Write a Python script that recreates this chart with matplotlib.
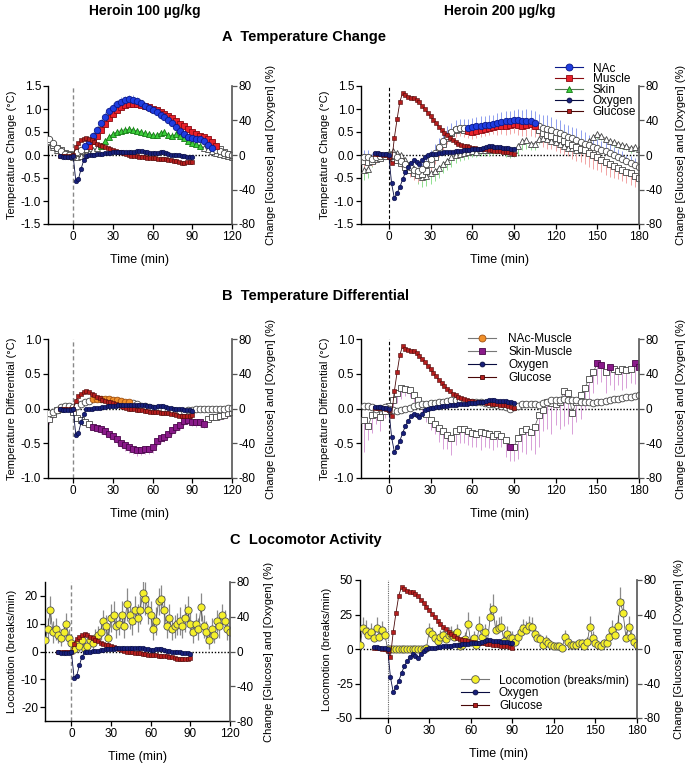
"""
plot.py - heroin 100 / 200 ug/kg: temperature change, temperature differential
and locomotor activity, each with glucose / oxygen on a right axis.
"""

import numpy as np
import matplotlib
matplotlib.use("Agg")
import matplotlib.pyplot as plt
from matplotlib.lines import Line2D

plt.rcParams["font.family"] = ["Liberation Sans", "DejaVu Sans"]
plt.rcParams["axes.unicode_minus"] = False
plt.rcParams["font.size"] = 8

# ---------------------------
# Sampling (start time, step in min)
# ---------------------------
T_START, T_STEP = -18, 3        # temperature series
EC_START, EC_STEP = -10, 2      # glucose / oxygen
LOCO_START, LOCO_STEP = -20, 2  # locomotion

# ---------------------------
# Panel A: temperature change (degC), heroin 100
# ---------------------------
NAC_100 = [0.35, 0.26, 0.16, 0.08, 0.03, 0.00, -0.02, 0.06, 0.10, 0.20,
           0.30, 0.42, 0.55, 0.70, 0.83, 0.95, 1.03, 1.10, 1.15, 1.19,
           1.21, 1.20, 1.17, 1.12, 1.07, 1.03, 0.98, 0.93, 0.88, 0.83,
           0.76, 0.69, 0.61, 0.53, 0.46, 0.40, 0.36, 0.35, 0.34, 0.30,
           0.22, 0.16, 0.11, 0.08, 0.05, 0.03, 0.01]
NAC_100_ERR = [0.06, 0.05, 0.05, 0.04, 0.04, 0.04, 0.04, 0.04, 0.05, 0.05,
               0.06, 0.07, 0.08, 0.09, 0.10, 0.10, 0.10, 0.10, 0.10, 0.10,
               0.10, 0.10, 0.09, 0.08, 0.08, 0.07, 0.07, 0.07, 0.06, 0.06,
               0.06, 0.06, 0.06, 0.06, 0.05, 0.05, 0.05, 0.05, 0.05, 0.05,
               0.05, 0.05, 0.05, 0.05, 0.05, 0.05, 0.05]
MUS_100 = [0.30, 0.22, 0.15, 0.10, 0.05, 0.02, 0.00, 0.04, 0.08, 0.13,
           0.20, 0.30, 0.42, 0.55, 0.68, 0.80, 0.90, 0.98, 1.04, 1.08,
           1.10, 1.11, 1.11, 1.09, 1.07, 1.04, 1.01, 0.98, 0.94, 0.90,
           0.85, 0.80, 0.74, 0.68, 0.62, 0.56, 0.50, 0.45, 0.42, 0.40,
           0.35, 0.28, 0.20, 0.12, 0.07, 0.03, 0.00]
MUS_100_ERR = 0.06
SKIN_100 = [0.28, 0.18, 0.10, 0.05, 0.01, -0.02, -0.05, -0.05, -0.03, 0.00,
            0.05, 0.10, 0.15, 0.20, 0.30, 0.40, 0.46, 0.50, 0.53, 0.55,
            0.56, 0.55, 0.52, 0.50, 0.47, 0.45, 0.44, 0.43, 0.48, 0.50,
            0.43, 0.42, 0.45, 0.42, 0.36, 0.30, 0.26, 0.23, 0.20, 0.16,
            0.12, 0.08, 0.05, 0.02, 0.00, -0.03, -0.05]
SKIN_100_ERR = 0.07

# ---------------------------
# Panel A: temperature change (degC), heroin 200
# ---------------------------
NAC_200 = [-0.05, -0.05, -0.08, -0.05, -0.03, -0.02, 0.00, 0.00, -0.05, -0.12,
           -0.20, -0.27, -0.32, -0.35, -0.30, -0.20, -0.08, 0.05, 0.18, 0.30,
           0.42, 0.50, 0.56, 0.58, 0.58, 0.58, 0.60, 0.62, 0.64, 0.65,
           0.66, 0.68, 0.70, 0.71, 0.73, 0.74, 0.76, 0.75, 0.73, 0.74,
           0.73, 0.70, 0.62, 0.58, 0.56, 0.54, 0.50, 0.47, 0.43, 0.40,
           0.36, 0.33, 0.29, 0.25, 0.21, 0.18, 0.15, 0.11, 0.08, 0.05,
           0.00, -0.05, -0.09, -0.14, -0.18, -0.22, -0.26]
NAC_200_ERR = [0.15, 0.15, 0.12, 0.10, 0.08, 0.08, 0.08, 0.08, 0.08, 0.08,
               0.08, 0.08, 0.10, 0.10, 0.12, 0.15, 0.18, 0.20, 0.20, 0.20,
               0.20, 0.20, 0.20, 0.20, 0.20, 0.20, 0.20, 0.20, 0.20, 0.20,
               0.20, 0.20, 0.22, 0.22, 0.22, 0.22, 0.22, 0.25, 0.25, 0.25,
               0.25, 0.25, 0.28, 0.30, 0.30, 0.28, 0.28, 0.28, 0.25, 0.25,
               0.25, 0.25, 0.25, 0.25, 0.22, 0.22, 0.20, 0.20, 0.20, 0.20,
               0.18, 0.18, 0.18, 0.15, 0.15, 0.15, 0.15]
MUS_200 = [-0.12, -0.15, -0.12, -0.08, -0.06, -0.03, 0.00, -0.03, -0.10, -0.17,
           -0.25, -0.33, -0.40, -0.44, -0.42, -0.34, -0.20, -0.05, 0.10, 0.25,
           0.38, 0.48, 0.54, 0.56, 0.55, 0.52, 0.50, 0.52, 0.55, 0.57,
           0.58, 0.60, 0.62, 0.63, 0.63, 0.65, 0.68, 0.66, 0.64, 0.66,
           0.67, 0.64, 0.55, 0.47, 0.44, 0.42, 0.38, 0.34, 0.30, 0.27,
           0.22, 0.18, 0.14, 0.10, 0.05, 0.00, -0.05, -0.10, -0.15, -0.20,
           -0.24, -0.28, -0.32, -0.36, -0.40, -0.45, -0.50]
MUS_200_ERR = [0.20, 0.15, 0.12, 0.10, 0.08, 0.05, 0.05, 0.05, 0.08, 0.10,
               0.12, 0.15, 0.15, 0.15, 0.15, 0.15, 0.15, 0.15, 0.15, 0.15,
               0.15, 0.15, 0.15, 0.15, 0.15, 0.15, 0.15, 0.15, 0.15, 0.15,
               0.15, 0.15, 0.18, 0.18, 0.20, 0.20, 0.20, 0.22, 0.22, 0.25,
               0.25, 0.25, 0.28, 0.30, 0.30, 0.30, 0.30, 0.30, 0.30, 0.30,
               0.30, 0.30, 0.30, 0.30, 0.30, 0.30, 0.28, 0.28, 0.28, 0.28,
               0.25, 0.25, 0.25, 0.25, 0.25, 0.25, 0.25]
SKIN_200 = [-0.33, -0.30, -0.10, -0.05, -0.02, 0.00, 0.05, 0.08, 0.05, 0.00,
            -0.10, -0.20, -0.30, -0.40, -0.48, -0.45, -0.40, -0.35, -0.28, -0.20,
            -0.12, -0.05, 0.00, 0.03, 0.05, 0.06, 0.08, 0.07, 0.10, 0.10,
            0.10, 0.12, 0.15, 0.15, 0.10, 0.05, 0.10, 0.20, 0.30, 0.32,
            0.25, 0.25, 0.35, 0.38, 0.35, 0.30, 0.28, 0.25, 0.20, 0.15,
            0.15, 0.10, 0.10, 0.20, 0.30, 0.40, 0.45, 0.42, 0.35, 0.30,
            0.28, 0.25, 0.22, 0.20, 0.15, 0.18, 0.12]
SKIN_200_ERR = [0.22, 0.20, 0.15, 0.10, 0.08, 0.05, 0.05, 0.05, 0.08, 0.10,
                0.15, 0.18, 0.20, 0.22, 0.22, 0.22, 0.22, 0.22, 0.22, 0.20,
                0.20, 0.20, 0.18, 0.15, 0.15, 0.15, 0.12, 0.12, 0.12, 0.12,
                0.12, 0.12, 0.12, 0.12, 0.15, 0.12, 0.15, 0.20, 0.20, 0.20,
                0.15, 0.15, 0.12, 0.12, 0.12, 0.12, 0.12, 0.12, 0.12, 0.12,
                0.10, 0.10, 0.10, 0.10, 0.10, 0.10, 0.10, 0.10, 0.10, 0.10,
                0.10, 0.10, 0.10, 0.10, 0.10, 0.10, 0.10]

# ---------------------------
# Panel B: temperature differential (degC)
# ---------------------------
NM_100 = [-0.07, -0.05, -0.02, 0.02, 0.03, 0.03, 0.02, 0.04, 0.07, 0.09,
          0.11, 0.13, 0.14, 0.14, 0.13, 0.13, 0.12, 0.12, 0.11, 0.10,
          0.10, 0.08, 0.06, 0.04, 0.03, 0.02, 0.01, 0.00, -0.01, -0.01,
          -0.02, -0.02, -0.03, -0.03, -0.03, -0.02, -0.02, -0.01, -0.01, 0.00,
          -0.01, 0.00, 0.00, -0.01, 0.00, 0.01, 0.01]
NM_100_ERR = 0.02
SM_100 = [-0.15, -0.08, -0.02, 0.00, 0.02, 0.01, -0.05, -0.13, -0.17, -0.20,
          -0.23, -0.26, -0.28, -0.30, -0.32, -0.36, -0.39, -0.44, -0.49, -0.53,
          -0.56, -0.58, -0.60, -0.59, -0.58, -0.58, -0.56, -0.47, -0.43, -0.41,
          -0.36, -0.31, -0.27, -0.24, -0.18, -0.17, -0.19, -0.20, -0.20, -0.22,
          -0.15, -0.12, -0.12, -0.11, -0.10, -0.07, -0.05]
SM_100_ERR = [0.08, 0.05, 0.04, 0.03, 0.03, 0.03, 0.04, 0.05, 0.05, 0.05,
              0.05, 0.05, 0.06, 0.06, 0.06, 0.06, 0.07, 0.07, 0.07, 0.08,
              0.08, 0.08, 0.08, 0.08, 0.08, 0.08, 0.08, 0.07, 0.07, 0.07,
              0.07, 0.07, 0.07, 0.07, 0.06, 0.06, 0.06, 0.06, 0.06, 0.06,
              0.05, 0.05, 0.05, 0.05, 0.05, 0.05, 0.05]
NM_200 = [0.03, 0.04, 0.02, 0.00, 0.01, 0.02, 0.00, -0.02, -0.03, -0.02,
          -0.01, 0.01, 0.03, 0.05, 0.06, 0.07, 0.08, 0.08, 0.09, 0.10,
          0.11, 0.12, 0.12, 0.11, 0.10, 0.10, 0.10, 0.10, 0.09, 0.08,
          0.07, 0.06, 0.05, 0.03, 0.02, 0.00, 0.02, 0.03, 0.06, 0.07,
          0.06, 0.06, 0.05, 0.08, 0.10, 0.12, 0.12, 0.12, 0.13, 0.12,
          0.12, 0.12, 0.10, 0.10, 0.09, 0.08, 0.09, 0.10, 0.11, 0.12,
          0.13, 0.14, 0.15, 0.16, 0.17, 0.18, 0.19]
NM_200_ERR = 0.03
SM_200 = [-0.17, -0.25, -0.10, -0.08, -0.12, -0.03, 0.04, 0.12, 0.23, 0.29,
          0.28, 0.26, 0.20, 0.12, 0.03, -0.08, -0.16, -0.22, -0.28, -0.33,
          -0.38, -0.42, -0.33, -0.30, -0.30, -0.32, -0.35, -0.36, -0.34, -0.35,
          -0.37, -0.39, -0.36, -0.40, -0.45, -0.56, -0.55, -0.42, -0.32, -0.30,
          -0.34, -0.26, -0.10, -0.02, 0.10, 0.08, 0.06, 0.10, 0.25, 0.23,
          -0.06, 0.10, 0.20, 0.30, 0.42, 0.52, 0.65, 0.63, 0.52, 0.59,
          0.57, 0.54, 0.57, 0.55, 0.57, 0.65, 0.60]
SM_200_ERR = [0.45, 0.20, 0.25, 0.15, 0.20, 0.10, 0.10, 0.10, 0.15, 0.15,
              0.10, 0.10, 0.10, 0.10, 0.10, 0.12, 0.15, 0.15, 0.20, 0.25,
              0.20, 0.25, 0.20, 0.20, 0.20, 0.20, 0.20, 0.20, 0.25, 0.20,
              0.20, 0.20, 0.20, 0.15, 0.25, 0.20, 0.20, 0.30, 0.30, 0.35,
              0.25, 0.40, 0.45, 0.30, 0.40, 0.45, 0.30, 0.40, 0.50, 0.45,
              0.30, 0.30, 0.35, 0.30, 0.35, 0.30, 0.30, 0.25, 0.30, 0.25,
              0.30, 0.20, 0.30, 0.25, 0.20, 0.30, 0.25]

# significant stretches (min) drawn with filled symbols, the rest open
SIG = {
    "NAC_100": [(9, 105)], "MUS_100": [(12, 108)], "SKIN_100": [(21, 96)],
    "NAC_200": [(57, 105)], "MUS_200": [(57, 105)], "SKIN_200": [],
    "NM_100": [(15, 42)], "SM_100": [(15, 99)],
    "NM_200": [], "SM_200": [(87, 87), (150, 153), (159, 159), (177, 180)],
}

# ---------------------------
# Glucose / oxygen (% change), same recordings in all three rows
# ---------------------------
OXY_100 = [-1, -2, -2, -2, -2, -1, -30, -28, -16, -6,
           -1, 0, 0, 0.5, 1, 1, 1.5, 2, 2.5, 2.5,
           3, 3, 3.5, 4, 4, 4, 4, 4, 4, 4.5,
           4.5, 4.5, 4, 3, 2.5, 2, 2, 2.5, 3, 3,
           2, 1, 0.5, 0, 0, -0.5, -1, -1.5, -2, -2,
           -2.5]
GLU_100 = [-1, -1, -1, -1, -1, 0, 9, 14, 17, 19,
           20, 19, 17, 15, 13, 12, 10, 9, 8, 7,
           6, 5, 4, 3, 2, 1, 0, -1, -1, -1.5,
           -2, -2, -2.5, -3, -3.5, -4, -4, -4.5, -5, -5,
           -5, -5.5, -6, -6.5, -7.5, -8.5, -9, -9, -8.5, -8.5,
           -8]
OXY_200 = [2, 2, 1.5, 1, 1, 0, -33, -50, -44, -37,
           -28, -20, -14, -9, -6, -8, -10, -6, -2, 0,
           1, 1, 1.5, 2, 2.5, 3, 3, 3.5, 4, 4.5,
           5, 5, 5.5, 5.5, 6, 6.5, 6.5, 7, 7.5, 8,
           9, 10, 10, 9.5, 9, 9, 8.5, 8.5, 8, 7.5,
           6.5]
GLU_200 = [1, 1, 1, 0.5, 0, -2, -9, 20, 42, 62,
           72, 69, 67, 66, 66, 64, 61, 57, 53, 49,
           45, 41, 37, 33, 29, 26, 23, 20, 17, 15,
           13, 12, 11, 10, 9, 8.5, 8, 7.5, 7, 7,
           6.5, 6, 5.5, 5, 5, 4.5, 4, 3.5, 3, 2,
           1]

# ---------------------------
# Panel C: locomotion (breaks/min)
# ---------------------------
LOCO_100 = [4, 8, 15, 7, 8, 6, 5, 7, 10, 5,
            3, 1, 3, 2, 4, 1, 2, 4, 3, 5,
            6, 7, 11, 9, 5, 12, 13, 9, 10, 13,
            9, 17, 13, 11, 15, 12, 15, 21, 19, 15,
            13, 8, 11, 18, 19, 15, 9, 12, 8, 9,
            10, 11, 9, 12, 15, 10, 7, 10, 8, 16,
            9, 7, 4, 8, 6, 11, 9, 13, 11, 8,
            7]
LOCO_100_ERR = [3, 4, 5, 4, 4, 3, 3, 3, 4, 3,
                2, 2, 2, 2, 2, 2, 2, 2, 2, 3,
                3, 3, 4, 4, 3, 5, 5, 4, 4, 5,
                4, 6, 5, 5, 5, 5, 5, 6, 6, 5,
                5, 4, 5, 5, 5, 5, 4, 5, 4, 4,
                4, 5, 4, 5, 5, 4, 4, 4, 4, 5,
                4, 4, 3, 4, 3, 4, 4, 4, 4, 4,
                3]
LOCO_200 = [3, 15, 13, 10, 12, 8, 15, 9, 14, 10,
            0, 0, 0, 0, 0, 0, 0, 0, 0, 0,
            0, 0, 0, 0, 1, 13, 11, 8, 6, 9,
            10, 7, 10, 11, 9, 12, 2, 3, 7, 18,
            5, 8, 3, 16, 9, 12, 5, 23, 29, 14,
            15, 16, 6, 11, 8, 8, 5, 9, 12, 15,
            14, 17, 16, 11, 8, 7, 3, 6, 4, 3,
            2, 2, 2, 1, 9, 5, 3, 3, 3, 4,
            4, 2, 5, 16, 8, 4, 3, 2, 4, 4,
            9, 14, 10, 17, 34, 26, 8, 16, 9, 5,
            3]
LOCO_200_ERR = [4, 8, 8, 6, 7, 5, 8, 5, 6, 5,
                0, 0, 0, 0, 0, 0, 0, 0, 0, 0,
                0, 0, 0, 0, 1, 6, 5, 4, 4, 5,
                5, 4, 6, 6, 5, 6, 3, 3, 5, 9,
                4, 5, 3, 8, 5, 6, 4, 10, 11, 7,
                8, 8, 5, 6, 5, 5, 4, 5, 6, 7,
                6, 7, 7, 6, 5, 4, 3, 4, 3, 3,
                2, 2, 2, 2, 5, 3, 3, 3, 3, 3,
                3, 2, 4, 8, 5, 3, 3, 2, 3, 3,
                5, 7, 6, 8, 11, 10, 5, 8, 5, 4,
                3]

# ---------------------------
# Styles
# ---------------------------
NAC = dict(marker="o", face="#1f3de0", edge="#0b1a8a", err="#8fa0f0", ms=4.6)
MUS = dict(marker="s", face="#e8202a", edge="#8a0a10", err="#f2a4a4", ms=4.2)
SKIN = dict(marker="^", face="#3ccf3c", edge="#147a14", err="#8fe08f", ms=4.6)
NM = dict(marker="o", face="#f0902a", edge="#a05010", err="#f5c890", ms=4.8)
SM = dict(marker="s", face="#8a1a8a", edge="#4a084a", err="#d8a0d8", ms=4.8)
OXY = dict(face="#18207a", edge="#080c40")
GLU = dict(face="#b41e1e", edge="#4a0808")
LOCO = dict(face="#f5f02a", edge="#555555", err="#8a8a8a")

EC_LABEL = "Change [Glucose] and [Oxygen] (%)"
FIG_W, FIG_H = 688, 764


def rect(x0, y0, x1, y1):
    """Pixel box (top-left origin) to figure fraction rect."""
    return [x0 / FIG_W, 1 - y1 / FIG_H, (x1 - x0) / FIG_W, (y1 - y0) / FIG_H]


def times(start, step, values):
    return start + step * np.arange(len(values))


def in_windows(t, windows):
    on = np.zeros(len(t), dtype=bool)
    for a, b in windows:
        on |= (t >= a) & (t <= b)
    return on


def draw_temp(ax, values, err, side, sig, st):
    v = np.asarray(values, dtype=float)
    t = times(T_START, T_STEP, v)
    e = np.broadcast_to(np.asarray(err, dtype=float), v.shape)
    if side == "up":
        ax.vlines(t, v, v + e, color=st["err"], lw=0.7, zorder=2)
    else:
        ax.vlines(t, v - e, v, color=st["err"], lw=0.7, zorder=2)
    ax.plot(t, v, color="#555555", lw=0.5, zorder=3)
    on = in_windows(t, sig)
    ax.plot(t[~on], v[~on], ls="none", marker=st["marker"], ms=st["ms"],
            mfc="white", mec="#444444", mew=0.6, zorder=4)
    ax.plot(t[on], v[on], ls="none", marker=st["marker"], ms=st["ms"],
            mfc=st["face"], mec=st["edge"], mew=0.6, zorder=5)


def draw_ec(ax2, oxy, glu):
    t = times(EC_START, EC_STEP, oxy)
    ax2.plot(t, glu, color=GLU["edge"], lw=0.6, marker="s", ms=3.3,
             mfc=GLU["face"], mec=GLU["edge"], mew=0.4)
    ax2.plot(t, oxy, color=OXY["edge"], lw=0.6, marker="o", ms=3.3,
             mfc=OXY["face"], mec=OXY["edge"], mew=0.4)


def draw_loco(ax, values, err, both_sides):
    v = np.asarray(values, dtype=float)
    t = times(LOCO_START, LOCO_STEP, v)
    e = np.asarray(err, dtype=float)
    low = v - e if both_sides else v
    ax.vlines(t, low, v + e, color=LOCO["err"], lw=0.9, zorder=2)
    ax.plot(t, v, color="#444444", lw=0.5, zorder=3)
    ax.plot(t, v, ls="none", marker="o", ms=5.2, mfc=LOCO["face"],
            mec=LOCO["edge"], mew=0.6, zorder=4)


def make_panel(fig, box, xlim, xticks, ylim, yticks, yfmt, ylabel, vline, right_pad):
    ax = fig.add_axes(rect(*box))
    ax.set_xlim(xlim)
    ax.set_ylim(ylim)
    ax.set_xticks(xticks)
    ax.set_yticks(yticks)
    ax.set_yticklabels([yfmt.format(y) for y in yticks])
    ax.spines["top"].set_visible(False)
    ax.spines["right"].set_visible(False)
    for s in ["left", "bottom"]:
        ax.spines[s].set_linewidth(1.0)
    ax.tick_params(direction="out", length=3.5, width=0.9, labelsize=8.5, pad=1.5)
    ax.set_xlabel("Time (min)", fontsize=9, labelpad=8)
    ax.set_ylabel(ylabel, fontsize=8, labelpad=3)
    ax.axhline(0, color="black", lw=1.0, ls=(0, (1, 1.3)), zorder=1)
    ax.axvline(0, zorder=1, **vline)

    ax2 = ax.twinx()
    ax2.set_ylim(-80, 80)
    ax2.set_yticks([-80, -40, 0, 40, 80])
    for s in ["top", "left", "bottom"]:
        ax2.spines[s].set_visible(False)
    ax2.spines["right"].set_color("#555555")
    ax2.spines["right"].set_linewidth(1.2)
    ax2.tick_params(direction="out", length=3.5, width=0.9, labelsize=8.5, pad=1.5,
                    color="#555555")
    ax2.set_ylabel(EC_LABEL, fontsize=8, labelpad=right_pad)
    return ax, ax2


def legend_handle(marker, face, edge, ms, line):
    return Line2D([], [], color=line, lw=0.8, marker=marker, ms=ms,
                  mfc=face, mec=edge, mew=0.6)


def main():
    fig = plt.figure(figsize=(FIG_W / 100, FIG_H / 100), dpi=100)

    title_font = dict(fontsize=10, fontweight="bold",
                      family=["Liberation Sans Narrow", "Liberation Sans", "DejaVu Sans"])
    fig.text(145 / FIG_W, 1 - 11 / FIG_H, "Heroin 100 µg/kg", ha="center", va="center", **title_font)
    fig.text(500 / FIG_W, 1 - 11 / FIG_H, "Heroin 200 µg/kg", ha="center", va="center", **title_font)
    sec_font = dict(fontsize=10.5, fontweight="bold",
                    family=["Liberation Sans Narrow", "Liberation Sans", "DejaVu Sans"])
    fig.text(222 / FIG_W, 1 - 37 / FIG_H, "A  Temperature Change", ha="left", va="center", **sec_font)
    fig.text(222 / FIG_W, 1 - 296 / FIG_H, "B  Temperature Differential", ha="left", va="center", **sec_font)
    fig.text(230 / FIG_W, 1 - 540 / FIG_H, "C  Locomotor Activity", ha="left", va="center", **sec_font)

    v_left = dict(color="#888888", lw=1.0, ls=(0, (3, 2)))
    v_right = dict(color="black", lw=0.8, ls=(0, (3, 2)))
    v_dot = dict(color="#666666", lw=0.8, ls=(0, (1, 1)))

    xt_l = [0, 30, 60, 90, 120]
    xt_r = [0, 30, 60, 90, 120, 150, 180]
    yt_a = [-1.5, -1.0, -0.5, 0.0, 0.5, 1.0, 1.5]
    yt_b = [-1.0, -0.5, 0.0, 0.5, 1.0]

    # ---- A, heroin 100
    ax, ax2 = make_panel(fig, (48, 86, 232, 224), (-19, 120), xt_l, (-1.5, 1.5), yt_a,
                         "{:.1f}", "Temperature Change (°C)", v_left, 7)
    draw_temp(ax, SKIN_100, SKIN_100_ERR, "up", SIG["SKIN_100"], SKIN)
    draw_temp(ax, MUS_100, MUS_100_ERR, "down", SIG["MUS_100"], MUS)
    draw_temp(ax, NAC_100, NAC_100_ERR, "up", SIG["NAC_100"], NAC)
    draw_ec(ax2, OXY_100, GLU_100)

    # ---- A, heroin 200
    ax, ax2 = make_panel(fig, (361, 86, 639, 224), (-20, 180), xt_r, (-1.5, 1.5), yt_a,
                         "{:.1f}", "Temperature Change (°C)", v_right, 9)
    draw_temp(ax, SKIN_200, SKIN_200_ERR, "down", SIG["SKIN_200"], SKIN)
    draw_temp(ax, MUS_200, MUS_200_ERR, "down", SIG["MUS_200"], MUS)
    draw_temp(ax, NAC_200, NAC_200_ERR, "up", SIG["NAC_200"], NAC)
    draw_ec(ax2, OXY_200, GLU_200)
    handles = [legend_handle("o", NAC["face"], NAC["edge"], 5, NAC["edge"]),
               legend_handle("s", MUS["face"], MUS["edge"], 4.5, MUS["edge"]),
               legend_handle("^", SKIN["face"], SKIN["edge"], 4.5, "#557755"),
               legend_handle("o", OXY["face"], OXY["edge"], 3.5, OXY["edge"]),
               legend_handle("s", GLU["face"], GLU["edge"], 3.5, GLU["edge"])]
    ax2.legend(handles, ["NAc", "Muscle", "Skin", "Oxygen", "Glucose"], loc="upper left",
               bbox_to_anchor=(0.697, 1.17), frameon=False, fontsize=8.5, handlelength=2.4,
               labelspacing=-0.1, handletextpad=0.8, borderpad=0, borderaxespad=0)

    # ---- B, heroin 100
    ax, ax2 = make_panel(fig, (48, 339, 232, 478), (-19, 120), xt_l, (-1.0, 1.0), yt_b,
                         "{:.1f}", "Temperature Differential (°C)", v_left, 7)
    draw_temp(ax, SM_100, SM_100_ERR, "down", SIG["SM_100"], SM)
    draw_temp(ax, NM_100, NM_100_ERR, "up", SIG["NM_100"], NM)
    draw_ec(ax2, OXY_100, GLU_100)

    # ---- B, heroin 200
    ax, ax2 = make_panel(fig, (361, 339, 639, 478), (-20, 180), xt_r, (-1.0, 1.0), yt_b,
                         "{:.1f}", "Temperature Differential (°C)", v_right, 9)
    draw_temp(ax, SM_200, SM_200_ERR, "down", SIG["SM_200"], SM)
    draw_temp(ax, NM_200, NM_200_ERR, "up", SIG["NM_200"], NM)
    draw_ec(ax2, OXY_200, GLU_200)
    handles = [legend_handle("o", NM["face"], NM["edge"], 5, "#777777"),
               legend_handle("s", SM["face"], SM["edge"], 5, "#777777"),
               legend_handle("o", OXY["face"], OXY["edge"], 3.5, OXY["edge"]),
               legend_handle("s", GLU["face"], GLU["edge"], 3.5, GLU["edge"])]
    ax2.legend(handles, ["NAc-Muscle", "Skin-Muscle", "Oxygen", "Glucose"], loc="upper left",
               bbox_to_anchor=(0.385, 1.04), frameon=False, fontsize=8.5, handlelength=2.4,
               labelspacing=0.08, handletextpad=1.0, borderpad=0, borderaxespad=0)

    # ---- C, heroin 100
    ax, ax2 = make_panel(fig, (45, 582, 230, 721), (-20, 120), xt_l, (-25, 25),
                         [-20, -10, 0, 10, 20], "{:d}", "Locomotion (breaks/min)", v_left, 7)
    draw_loco(ax, LOCO_100, LOCO_100_ERR, True)
    draw_ec(ax2, OXY_100, GLU_100)

    # ---- C, heroin 200
    ax, ax2 = make_panel(fig, (360, 580, 637, 718), (-20, 180), xt_r, (-50, 50),
                         [-50, -25, 0, 25, 50], "{:d}", "Locomotion (breaks/min)", v_dot, 9)
    draw_loco(ax, LOCO_200, LOCO_200_ERR, False)
    draw_ec(ax2, OXY_200, GLU_200)
    handles = [legend_handle("o", LOCO["face"], LOCO["edge"], 5.5, "#777777"),
               legend_handle("o", OXY["face"], OXY["edge"], 3.5, OXY["edge"]),
               legend_handle("s", GLU["face"], GLU["edge"], 3.5, GLU["edge"])]
    ax2.legend(handles, ["Locomotion (breaks/min)", "Oxygen", "Glucose"], loc="upper left",
               bbox_to_anchor=(0.365, 0.315), frameon=False, fontsize=8.5, handlelength=2.4,
               labelspacing=0.05, handletextpad=0.8, borderpad=0, borderaxespad=0)

    fig.savefig("out.png", dpi=100)
    plt.close(fig)


if __name__ == "__main__":
    main()
